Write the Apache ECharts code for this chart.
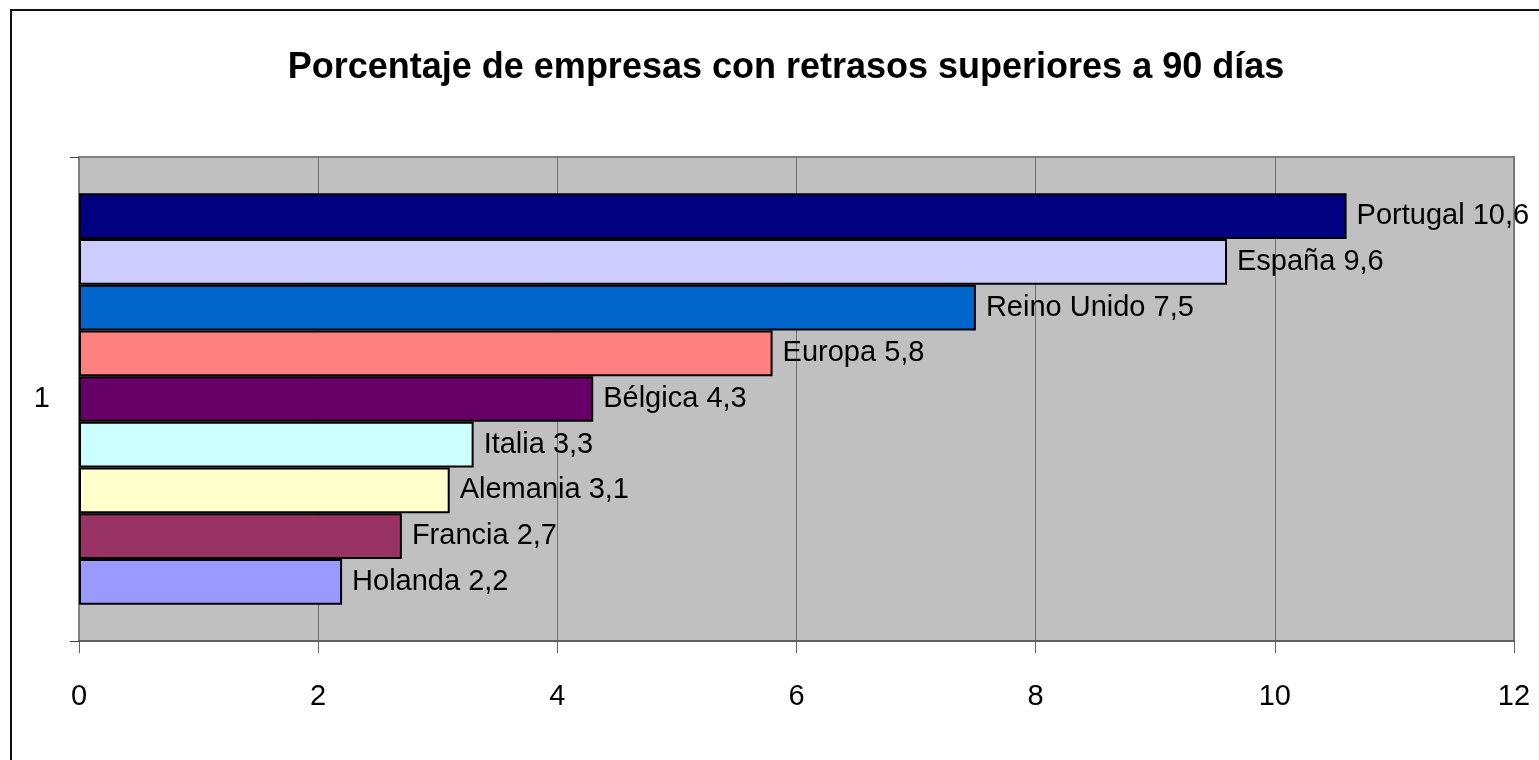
<!DOCTYPE html>
<html>
<head>
<meta charset="utf-8">
<script src="https://cdn.jsdelivr.net/npm/echarts@6/dist/echarts.min.js"></script>
<style>
  html, body { margin: 0; padding: 0; background: #fff; }
  #chart { width: 1539px; height: 760px; }
</style>
</head>
<body>
<div id="chart"></div>
<script>
const categories = ['1'];
const countries = ['Portugal', 'España', 'Reino Unido', 'Europa', 'Bélgica', 'Italia', 'Alemania', 'Francia', 'Holanda'];
const values = [10.6, 9.6, 7.5, 5.8, 4.3, 3.3, 3.1, 2.7, 2.2];
const xTicks = { min: 0, max: 12, interval: 2 };

const palette = ['#000080', '#CCCCFF', '#0066CC', '#FF8080', '#660066', '#CCFFFF', '#FFFFCC', '#993366', '#9999FF'];
const font = "'Liberation Sans', Arial, sans-serif";

const chart = echarts.init(document.getElementById('chart'));

const series = countries.map(function (name, i) {
    return {
        name: name,
        type: 'bar',
        data: [values[i]],
        barGap: '0%',
        barCategoryGap: '15%',
        itemStyle: {
            color: palette[i],
            borderColor: '#000',
            borderWidth: 2,
        },
        label: {
            show: true,
            position: 'right',
            distance: 10,
            color: '#000',
            fontFamily: font,
            fontSize: 29,
            formatter: function (p) {
                return p.seriesName + ' ' + String(p.value).replace('.', ',');
            },
        },
        silent: true,
    };
});

const option = {
    animation: false,
    title: {
        text: 'Porcentaje de empresas con retrasos superiores a 90 días',
        left: 781,
        textAlign: 'center',
        top: 45,
        textStyle: {
            fontFamily: font,
            fontWeight: 'bold',
            fontSize: 36,
            color: '#000',
        },
    },
    graphic: [
        {
            type: 'rect',
            shape: { x: 11, y: 10, width: 1560, height: 800 },
            style: { fill: 'none', stroke: '#111', lineWidth: 2 },
        },
    ],
    grid: {
        left: 79,
        right: 25,
        top: 157,
        bottom: 119,
        show: true,
        backgroundColor: '#C0C0C0',
        borderColor: '#808080',
        borderWidth: 2,
        containLabel: false,
    },
    xAxis: {
        type: 'value',
        min: xTicks.min,
        max: xTicks.max,
        interval: xTicks.interval,
        axisLine: { show: true, lineStyle: { color: '#606060', width: 2 } },
        axisTick: { show: true, length: 12, lineStyle: { color: '#606060', width: 1 } },
        splitLine: { show: true, lineStyle: { color: '#707070', width: 1 } },
        axisLabel: {
            margin: 41,
            color: '#000',
            fontFamily: font,
            fontSize: 29,
        },
    },
    yAxis: {
        type: 'category',
        data: categories,
        axisLine: { show: true, lineStyle: { color: '#808080', width: 2 } },
        axisTick: { show: true, length: 9, lineStyle: { color: '#404040', width: 1 } },
        axisLabel: {
            margin: 29,
            color: '#000',
            fontFamily: font,
            fontSize: 29,
        },
    },
    series: series,
};

chart.setOption(option);
</script>
</body>
</html>
